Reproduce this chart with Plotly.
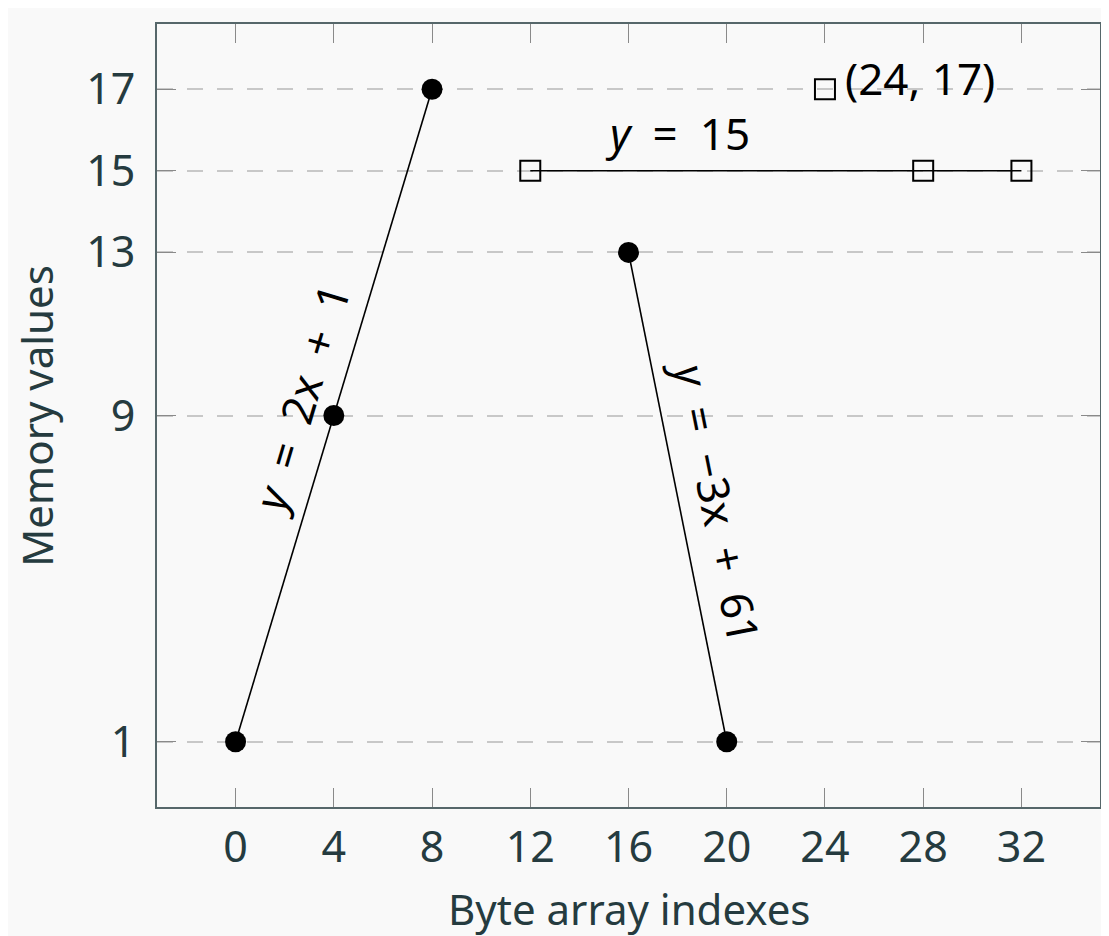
import plotly.graph_objects as go

# Data
line_a_x = [0, 4, 8]
line_a_y = [1, 9, 17]
line_b_x = [16, 20]
line_b_y = [13, 1]
line_c_x = [12, 28, 32]
line_c_y = [15, 15, 15]
point_d_x = [24]
point_d_y = [17]
x_ticks = [0, 4, 8, 12, 16, 20, 24, 28, 32]
y_ticks = [1, 9, 13, 15, 17]

FONT = "Noto Sans"
TXT = "#253b3f"
SP = "\u2002"

fig = go.Figure()
circ = dict(symbol="circle", size=21, color="black", line=dict(width=0))
sq = dict(symbol="square-open", size=20, color="black", line=dict(width=2))
fig.add_trace(go.Scatter(x=line_a_x, y=line_a_y, mode="lines+markers",
                         line=dict(color="black", width=1.6), marker=circ))
fig.add_trace(go.Scatter(x=line_b_x, y=line_b_y, mode="lines+markers",
                         line=dict(color="black", width=1.6), marker=circ))
fig.add_trace(go.Scatter(x=line_c_x, y=line_c_y, mode="lines+markers",
                         line=dict(color="black", width=1.6), marker=sq))
fig.add_trace(go.Scatter(x=point_d_x, y=point_d_y, mode="markers", marker=sq))

ann_font = dict(family=FONT, size=44, color="black")
fig.add_annotation(x=2.65, y=9.4, text=f"<i>y</i>{SP}={SP}2x{SP}+{SP}1", textangle=-73.3,
                   showarrow=False, font=ann_font)
fig.add_annotation(x=19.6, y=6.9, text=f"<i>y</i>{SP}={SP}−3x{SP}+{SP}61", textangle=78.7,
                   showarrow=False, font=ann_font)
fig.add_annotation(x=18.0, y=15.92, text=f"<i>y</i>{SP}={SP}15",
                   showarrow=False, font=ann_font)
fig.add_annotation(x=24.72, y=17.27, text="(24, 17)", xanchor="left",
                   showarrow=False, font=ann_font)

title_font = dict(family=FONT, size=42, color=TXT)
fig.add_annotation(xref="paper", yref="paper", x=0.5, y=-0.13, yanchor="middle",
                   text="Byte array indexes", showarrow=False, font=title_font)
fig.add_annotation(xref="paper", yref="paper", x=-0.128, y=0.5, xanchor="center",
                   text="Memory values", textangle=-90, showarrow=False, font=title_font)

axis_common = dict(showline=True, mirror="ticks", linecolor="#56676a", linewidth=2,
                   ticks="inside", ticklen=19, tickcolor="#8a8a8a", tickwidth=1.2,
                   zeroline=False, automargin=False,
                   tickfont=dict(family=FONT, size=43, color=TXT))

fig.update_xaxes(range=[-3.2, 35.2], tickvals=x_ticks, showgrid=False,
                 ticklabelstandoff=1, **axis_common)
fig.update_yaxes(range=[-0.6, 18.6], tickvals=y_ticks, showgrid=True,
                 gridcolor="#c8c8c8", gridwidth=1.6, griddash="16px,14px",
                 ticklabelstandoff=11, **axis_common)

fig.update_layout(width=1101, height=928, showlegend=False,
                  paper_bgcolor="#f9f9f9", plot_bgcolor="#f9f9f9",
                  margin=dict(l=149, r=9, t=16, b=129))

fig.write_html("out.html",
               post_script="document.documentElement.style.overflow='hidden';"
                           "document.body.style.overflow='hidden';")
